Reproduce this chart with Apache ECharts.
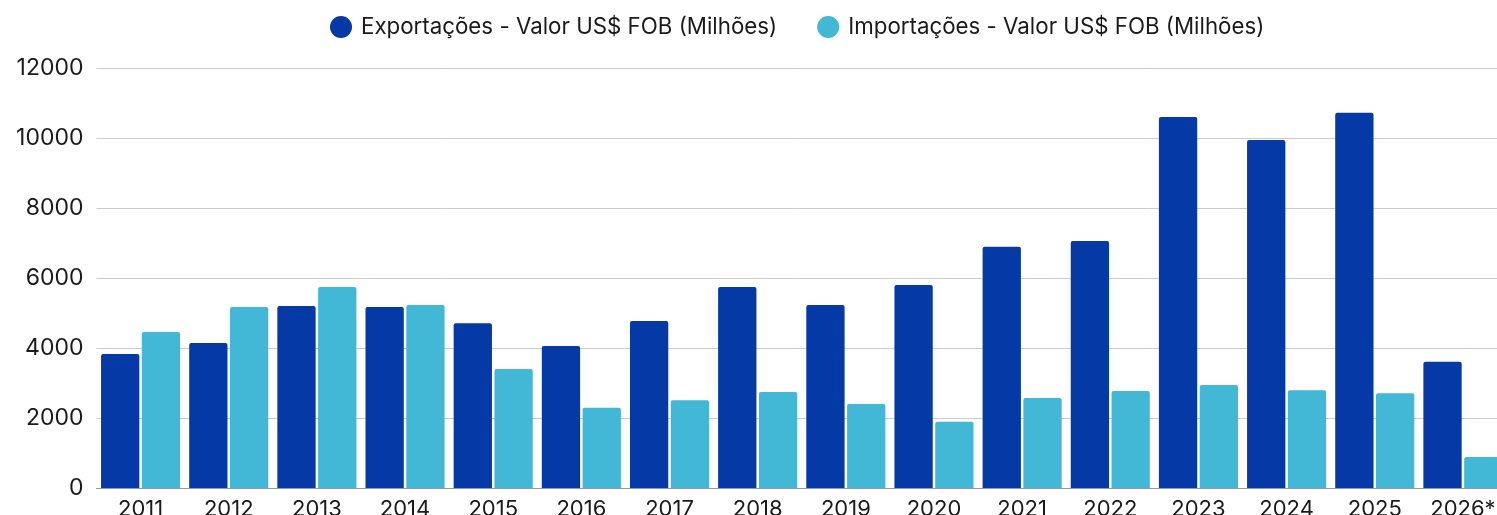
<!DOCTYPE html>
<html>
<head>
<meta charset="utf-8">
<script src="https://cdn.jsdelivr.net/npm/echarts@6/dist/echarts.min.js"></script>
<style>html,body{margin:0;padding:0;background:#fff;overflow:hidden;}#c{width:1497px;height:515px;}</style>
</head>
<body>
<div id="c"></div>
<script>
const categories = ['2011','2012','2013','2014','2015','2016','2017','2018','2019','2020','2021','2022','2023','2024','2025','2026*'];
const exportValues = [3830, 4140, 5200, 5170, 4710, 4060, 4770, 5740, 5230, 5800, 6890, 7060, 10600, 9940, 10720, 3610];
const importValues = [4460, 5170, 5740, 5230, 3400, 2290, 2510, 2740, 2400, 1890, 2570, 2770, 2940, 2790, 2705, 886];
const seriesNames = ['Exportações - Valor US$ FOB (Milhões)', 'Importações - Valor US$ FOB (Milhões)'];
const yTicks = { min: 0, max: 12000, interval: 2000 };

const font = 'Inter, "Noto Sans", sans-serif';
const chart = echarts.init(document.getElementById('c'), null, { renderer: 'canvas', width: 1497, height: 515 });
chart.setOption({
  animation: false,
  textStyle: { fontFamily: font },
  legend: {
    top: 11,
    left: 325,
    icon: 'circle',
    itemWidth: 22,
    itemHeight: 22,
    itemGap: 40,
    textStyle: { fontSize: 22.3, color: '#1a1a1a', fontFamily: font, padding: [0, 0, 0, 4] },
    data: seriesNames
  },
  grid: { left: 96.5, width: 1410.5, top: 68, height: 420, containLabel: false, outerBoundsMode: 'none' },
  xAxis: {
    type: 'category',
    data: categories,
    axisTick: { show: false },
    axisLine: { lineStyle: { color: '#999', width: 1 } },
    axisLabel: { fontSize: 22, color: '#1a1a1a', margin: 10, fontFamily: font }
  },
  yAxis: {
    type: 'value',
    min: yTicks.min, max: yTicks.max, interval: yTicks.interval,
    axisLine: { show: false },
    axisTick: { show: false },
    splitLine: { lineStyle: { color: '#cccccc', width: 1 } },
    axisLabel: { fontSize: 23, color: '#1a1a1a', margin: 13, fontFamily: font, formatter: v => String(v) }
  },
  series: [
    {
      name: seriesNames[0], type: 'bar', data: exportValues,
      barWidth: 38.3, barGap: '6.5%',
      itemStyle: { color: '#0539A6', borderRadius: [2, 2, 0, 0] }
    },
    {
      name: seriesNames[1], type: 'bar', data: importValues,
      barWidth: 38.3, barGap: '6.5%',
      itemStyle: { color: '#42B8D6', borderRadius: [2, 2, 0, 0] }
    }
  ]
});
</script>
</body>
</html>
